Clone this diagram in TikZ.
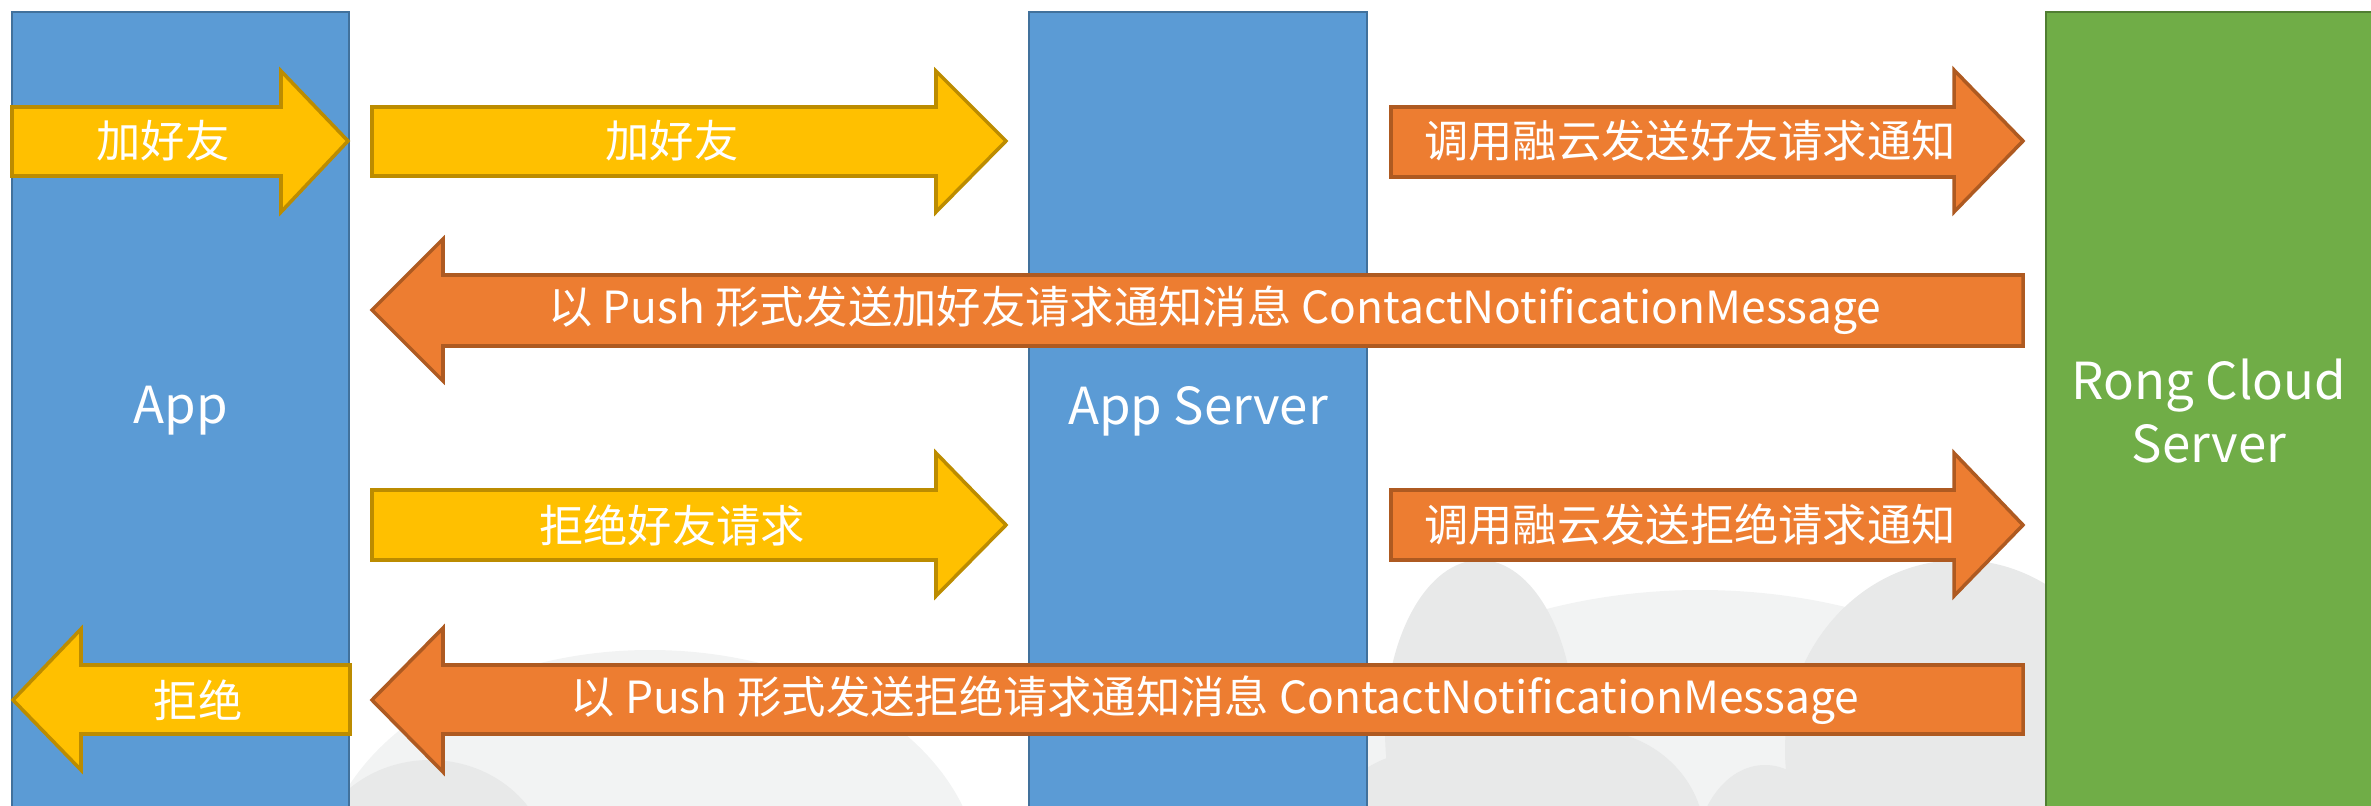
\documentclass[tikz,border=0pt]{standalone}
\usepackage{fontspec}
\setmainfont{Noto Sans CJK SC}
\usepackage{tikz}

\definecolor{lanebl}{HTML}{5B9BD5}
\definecolor{lanebldk}{HTML}{41719C}
\definecolor{lanegr}{HTML}{70AD47}
\definecolor{lanegrdk}{HTML}{507E32}
\definecolor{arryel}{HTML}{FFC000}
\definecolor{arryeldk}{HTML}{BC8C00}
\definecolor{arror}{HTML}{ED7D31}
\definecolor{arrordk}{HTML}{AE5A21}
\definecolor{cloudlt}{HTML}{F2F3F3}
\definecolor{clouddk}{HTML}{E8E9E9}

\begin{document}
\begin{tikzpicture}[x=0.01cm,y=-0.01cm,
    lane/.style={line width=0.6pt},
    yel/.style={fill=arryel, draw=arryeldk, line width=1pt},
    org/.style={fill=arror, draw=arrordk, line width=1pt},
    txt/.style={text=white, font=\fontsize{12.6}{15}\selectfont, inner sep=0pt},
    big/.style={text=white, font=\fontsize{14.5}{18}\selectfont, align=center, inner sep=0pt}]

    \useasboundingbox (0,0) rectangle (2371,806);
    \clip (0,0) rectangle (2371,806);

    % clouds in the back
    \fill[cloudlt] (650,880) ellipse (330 and 230);
    \fill[cloudlt] (1700,880) ellipse (430 and 290);
    \fill[clouddk] (1480,730) ellipse (95 and 170);
    \fill[clouddk] (1960,750) ellipse (175 and 190);
    \fill[clouddk] (1590,840) ellipse (115 and 110);
    \fill[clouddk] (1765,860) ellipse (70 and 95);
    \fill[clouddk] (1430,870) ellipse (120 and 120);
    \fill[clouddk] (430,870) ellipse (120 and 110);

    % lanes
    \filldraw[lane, fill=lanebl, draw=lanebldk] (12,12) rectangle (349,830);
    \filldraw[lane, fill=lanebl, draw=lanebldk] (1029,12) rectangle (1367,830);
    \filldraw[lane, fill=lanegr, draw=lanegrdk] (2046,12) rectangle (2420,830);

    \node[big] (app) at (181,411) {App};
    \node[big] (appsrv) at (1198,411) {App Server};
    \node[big] (rong) at (2209,411) {Rong Cloud\\Server};

    % add friend
    \filldraw[yel] (12,107) -- (281,107) -- (281,71) -- (348,141) -- (281,212) -- (281,176) -- (12,176) -- cycle;
    \filldraw[yel] (372,107) -- (936,107) -- (936,71) -- (1006,141) -- (936,212) -- (936,176) -- (372,176) -- cycle;
    \filldraw[org] (1391,107) -- (1954,107) -- (1954,70) -- (2023,141) -- (1954,212) -- (1954,177) -- (1391,177) -- cycle;
    \filldraw[org] (2023,275) -- (443,275) -- (443,239) -- (372,310) -- (443,381) -- (443,346) -- (2023,346) -- cycle;

    \node[txt] (add1) at (163,141) {加好友};
    \node[txt] (add2) at (672,141) {加好友};
    \node[txt] (call1) at (1690,141) {调用融云发送好友请求通知};
    \node[txt] (push1) at (1215,310) {以 Push 形式发送加好友请求通知消息 ContactNotificationMessage};

    % refuse
    \filldraw[yel] (372,490) -- (936,490) -- (936,453) -- (1006,525) -- (936,596) -- (936,560) -- (372,560) -- cycle;
    \filldraw[org] (1391,490) -- (1954,490) -- (1954,453) -- (2023,525) -- (1954,596) -- (1954,560) -- (1391,560) -- cycle;
    \filldraw[yel] (350,665) -- (81,665) -- (81,629) -- (13,700) -- (81,770) -- (81,734) -- (350,734) -- cycle;
    \filldraw[org] (2023,665) -- (443,665) -- (443,628) -- (372,700) -- (443,772) -- (443,734) -- (2023,734) -- cycle;

    \node[txt] (rej1) at (672,525) {拒绝好友请求};
    \node[txt] (call2) at (1690,525) {调用融云发送拒绝请求通知};
    \node[txt] (rej2) at (198,700) {拒绝};
    \node[txt] (push2) at (1215,700) {以 Push 形式发送拒绝请求通知消息 ContactNotificationMessage};

\end{tikzpicture}
\end{document}
